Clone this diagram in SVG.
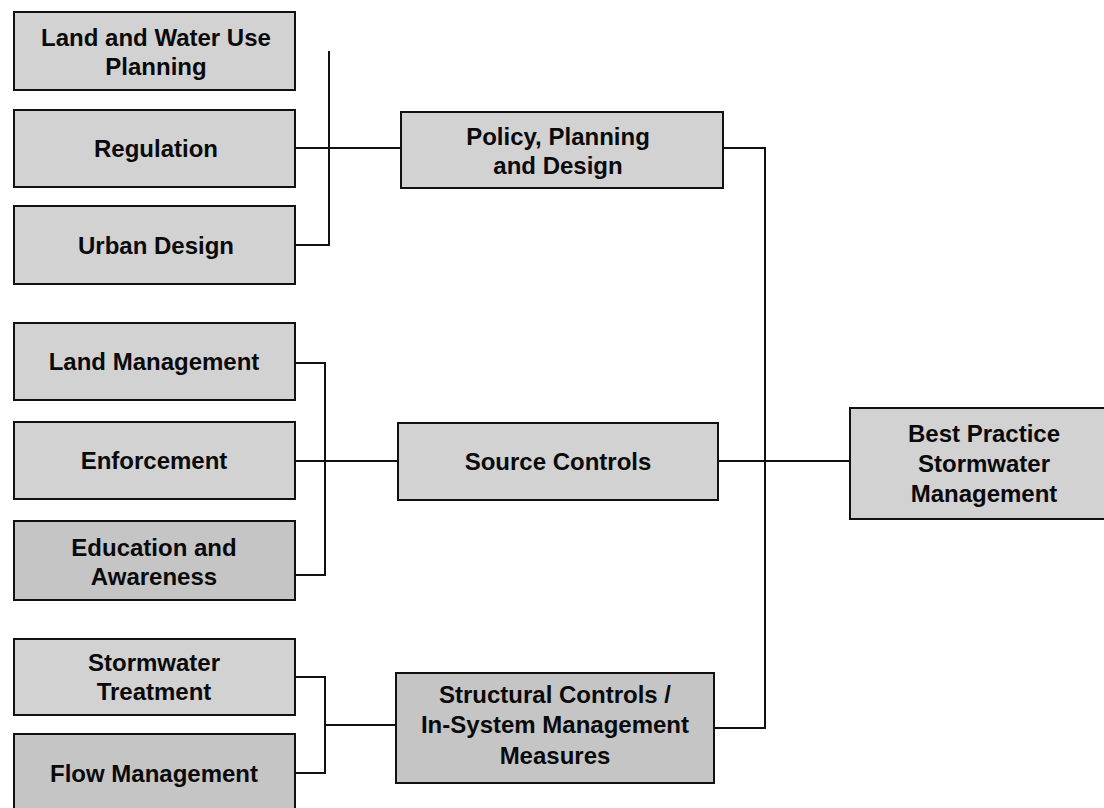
<svg xmlns="http://www.w3.org/2000/svg" width="1104" height="808" viewBox="0 0 1104 808">
<style>
.box{fill:#d2d2d2;stroke:#111;stroke-width:2}
.dark{fill:#c5c5c5}
.t{font-family:"Liberation Sans",Arial,sans-serif;font-size:24px;font-weight:bold;fill:#0a0a0a;text-anchor:middle}
.c{fill:none;stroke:#111;stroke-width:2}
</style>
<rect width="1104" height="808" fill="#fff"/>
<g id="connectors">
<path class="c" d="M329 51V245H295"/>
<path class="c" d="M295 148H401"/>
<path class="c" d="M295 363H325V575H295"/>
<path class="c" d="M295 461H398"/>
<path class="c" d="M295 677H325V773H295"/>
<path class="c" d="M325 725H396"/>
<path class="c" d="M723 148H765V728H714"/>
<path class="c" d="M718 461H850"/>
</g>
<g id="n1"><rect class="box" x="14" y="12" width="281" height="78"/><text class="t" x="156" y="46">Land and Water Use</text><text class="t" x="156" y="75">Planning</text></g>
<g id="n2"><rect class="box" x="14" y="110" width="281" height="77"/><text class="t" x="156" y="157">Regulation</text></g>
<g id="n3"><rect class="box" x="14" y="206" width="281" height="78"/><text class="t" x="156" y="254">Urban Design</text></g>
<g id="n4"><rect class="box" x="14" y="323" width="281" height="77"/><text class="t" x="154" y="370">Land Management</text></g>
<g id="n5"><rect class="box" x="14" y="422" width="281" height="77"/><text class="t" x="154" y="469">Enforcement</text></g>
<g id="n6"><rect class="box dark" x="14" y="521" width="281" height="79"/><text class="t" x="154" y="556">Education and</text><text class="t" x="154" y="585">Awareness</text></g>
<g id="n7"><rect class="box" x="14" y="639" width="281" height="76"/><text class="t" x="154" y="671">Stormwater</text><text class="t" x="154" y="700">Treatment</text></g>
<g id="n8"><rect class="box dark" x="14" y="734" width="281" height="80"/><text class="t" x="154" y="782">Flow Management</text></g>
<g id="n9"><rect class="box" x="401" y="112" width="322" height="76"/><text class="t" x="558" y="145">Policy, Planning</text><text class="t" x="558" y="174">and Design</text></g>
<g id="n10"><rect class="box" x="398" y="423" width="320" height="77"/><text class="t" x="558" y="470">Source Controls</text></g>
<g id="n11"><rect class="box dark" x="396" y="673" width="318" height="110"/><text class="t" x="555" y="703">Structural Controls /</text><text class="t" x="555" y="733">In-System Management</text><text class="t" x="555" y="764">Measures</text></g>
<g id="n12"><rect class="box" x="850" y="408" width="270" height="111"/><text class="t" x="984" y="442">Best Practice</text><text class="t" x="984" y="472">Stormwater</text><text class="t" x="984" y="502">Management</text></g>
</svg>
